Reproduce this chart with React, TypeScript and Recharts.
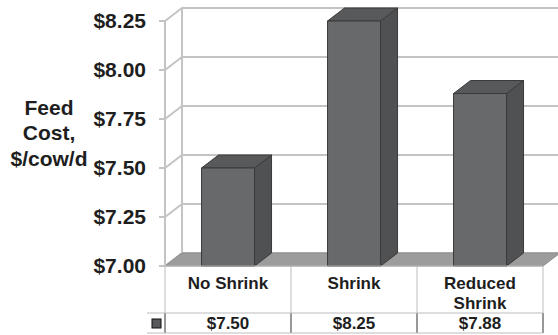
import { Bar, BarChart, CartesianGrid, ReferenceArea, XAxis, YAxis } from 'recharts'

const categories = ['No Shrink', 'Shrink', 'Reduced\nShrink']
const feedCost = [7.5, 8.25, 7.88]
const yTicks = [7, 7.25, 7.5, 7.75, 8, 8.25]
const yLabel = ['Feed', 'Cost,', '$/cow/d']

const data = categories.map((name, i) => ({ name, cost: feedCost[i] }))

// 3D depth offset of the back wall / bars
const DX = 17
const DY = -13
const FONT = '"Liberation Sans", Arial, sans-serif'
const INK = '#1e1e1e'
const GRID = '#c4c4c4'
const money = (v: number) => `$${v.toFixed(2)}`

function GridLine(props: any) {
  const { x1, y1, x2 } = props
  return (
    <polyline
      key={props.key}
      points={`${x1},${y1} ${x1 + DX},${y1 + DY} ${x2 + DX},${y1 + DY}`}
      fill="none"
      stroke={GRID}
      strokeWidth={2}
    />
  )
}

function Walls(props: any) {
  const { x, y, width, height } = props
  const bottom = y + height
  return (
    <g>
      <line x1={x + DX} y1={y + DY} x2={x + DX} y2={bottom + DY} stroke={GRID} strokeWidth={2} />
      <polygon
        points={`${x},${bottom} ${x + DX},${bottom + DY} ${x + width + DX},${bottom + DY} ${x + width},${bottom}`}
        fill="#9c9c9c"
        stroke="#8c8c8c"
      />
    </g>
  )
}

function Box3D(props: any) {
  const { x, y, width, height } = props
  const r = x + width
  const b = y + height
  return (
    <g stroke="#3a3a3a" strokeWidth={1} strokeLinejoin="round">
      <polygon points={`${r},${y} ${r + DX},${y + DY} ${r + DX},${b + DY} ${r},${b}`} fill="#505153" />
      <polygon points={`${x},${y} ${x + DX},${y + DY} ${r + DX},${y + DY} ${r},${y}`} fill="#58595b" />
      <rect x={x} y={y} width={width} height={height} fill="#68696b" />
    </g>
  )
}

function TableCell(props: any) {
  const { x, y, payload, index } = props
  const half = payload.offset ?? props.width / categories.length / 2
  const left = x - half
  const right = x + half
  const row1 = y + 47
  const row2 = y + 67
  const lines = String(payload.value).split('\n')
  const firstY = lines.length > 1 ? y + 17 : y + 17
  return (
    <g fontFamily={FONT} fontWeight="bold" fill={INK}>
      {index === 0 && (
        <g>
          <line x1={left} y1={y} x2={left} y2={row1} stroke="#bdbdbd" />
          <line x1={left} y1={row1} x2={left} y2={row2} stroke="#333" />
          <rect x={left - 13} y={row1 + 6} width={9} height={9} fill="#58595b" stroke="#111" />
        </g>
      )}
      <line x1={right} y1={y} x2={right} y2={row1} stroke="#bdbdbd" />
      <line x1={right} y1={row1} x2={right} y2={row2} stroke="#333" />
      <line x1={index === 0 ? left - 18 : left} y1={row1} x2={right} y2={row1} stroke="#bdbdbd" />
      <line x1={index === 0 ? left - 18 : left} y1={row2} x2={right} y2={row2} stroke="#bdbdbd" />
      {lines.map((t, i) => (
        <text key={t} x={x} y={firstY + i * 20} textAnchor="middle" dominantBaseline="central" fontSize={17}>
          {t}
        </text>
      ))}
      <text x={x} y={row1 + 10} textAnchor="middle" dominantBaseline="central" fontSize={17}>
        {money(feedCost[index])}
      </text>
    </g>
  )
}

function AxisTitle(props: any) {
  const { viewBox } = props
  const cx = viewBox.x + 49
  const cy = viewBox.y + viewBox.height / 2
  return (
    <text fontFamily={FONT} fontWeight="bold" fontSize={21} fill={INK} textAnchor="middle" dominantBaseline="central">
      {yLabel.map((t, i) => (
        <tspan key={t} x={cx} y={cy - 37 + i * 25.5}>
          {t}
        </tspan>
      ))}
    </text>
  )
}

export default function App() {
  return (
    <div style={{ position: 'absolute', left: 0, top: 0, background: '#fff' }}>
      <BarChart
        width={558}
        height={335}
        data={data}
        margin={{ top: 21, right: 15, bottom: 0, left: 0 }}
        barCategoryGap="29%"
      >
        <CartesianGrid vertical={false} horizontal={GridLine} />
        <ReferenceArea y1={7} y2={8.25} shape={<Walls />} ifOverflow="visible" />
        <XAxis
          dataKey="name"
          height={69}
          tickSize={0}
          tickMargin={0}
          interval={0}
          axisLine={{ stroke: '#bdbdbd' }}
          tick={<TableCell />}
        />
        <YAxis
          width={165}
          domain={[7, 8.25]}
          ticks={yTicks}
          tickFormatter={money}
          tickSize={6}
          tickMargin={13}
          axisLine={{ stroke: GRID, strokeWidth: 2 }}
          tickLine={{ stroke: GRID, strokeWidth: 2 }}
          tick={{ fontFamily: FONT, fontWeight: 'bold', fontSize: 21, fill: INK }}
          label={{ content: <AxisTitle /> }}
        />
        <Bar dataKey="cost" shape={<Box3D />} isAnimationActive={false} />
      </BarChart>
    </div>
  )
}
